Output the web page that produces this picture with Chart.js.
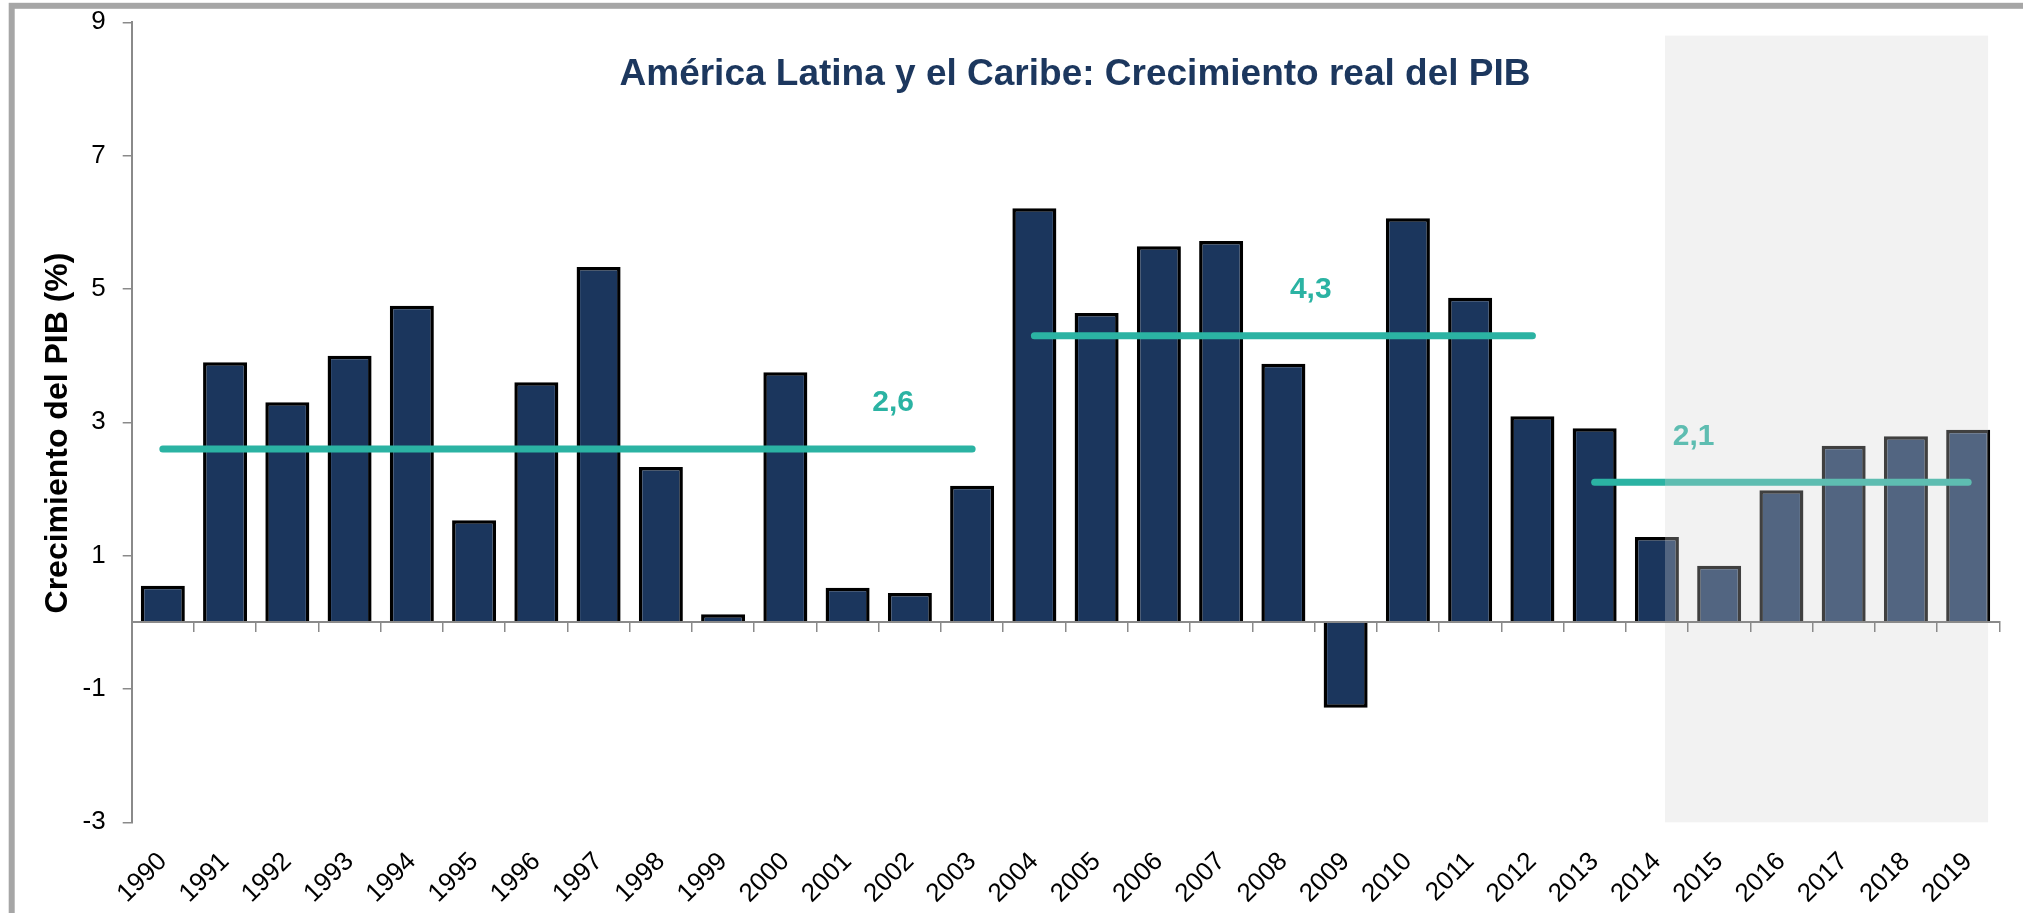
<!DOCTYPE html>
<html lang="es">
<head>
<meta charset="utf-8">
<title>América Latina y el Caribe: Crecimiento real del PIB</title>
<script src="https://cdn.jsdelivr.net/npm/chart.js@4.4.1/dist/chart.umd.min.js"></script>
<style>
  html, body { margin: 0; padding: 0; background: #fff; }
  #pibChart { display: block; }
</style>
</head>
<body>
<canvas id="pibChart" width="2023" height="913"></canvas>
<script>
// === Data ===
const years = ['1990', '1991', '1992', '1993', '1994', '1995', '1996', '1997', '1998', '1999',
               '2000', '2001', '2002', '2003', '2004', '2005', '2006', '2007', '2008', '2009',
               '2010', '2011', '2012', '2013', '2014', '2015', '2016', '2017', '2018', '2019'];

// Real GDP growth, %
const growth = [0.55, 3.9, 3.3, 4.0, 4.75, 1.53, 3.6, 5.33, 2.33, 0.12,
                3.75, 0.52, 0.44, 2.05, 6.21, 4.64, 5.64, 5.72, 3.88, -1.28,
                6.06, 4.87, 3.09, 2.91, 1.28, 0.85, 1.98, 2.65, 2.79, 2.89];

// Period averages
const avgFrom = ['1990', '2004', '2013'];
const avgTo = ['2003', '2012', '2019'];
const avgValue = [2.6, 4.3, 2.1];
const avgText = ['2,6', '4,3', '2,1'];

const yTicks = [-3, -1, 1, 3, 5, 7, 9];

// === Styling / layout ===
const FONT = "'Liberation Sans', Arial, sans-serif";
const NAVY = '#1b365d';
const TEAL = '#2bb3a3';
const AXIS_GREY = '#8a8a8a';

// where the average labels sit (category index) and the projection band (index / value units)
const avgLabelAt = [11.73, 18.44, 24.59];
const projectionBand = { from: 24.13, to: 29.32, top: 8.8, bottom: -3 };

// Outer frame, chart title and rotated y-axis title
const framePlugin = {
    id: 'framePlugin',
    beforeDraw(chart) {
        const ctx = chart.ctx;
        ctx.save();
        ctx.fillStyle = '#fff';
        ctx.fillRect(0, 0, chart.width, chart.height);
        ctx.strokeStyle = '#a6a6a6';
        ctx.lineWidth = 6;
        ctx.strokeRect(11.7, 5.8, chart.width + 40, chart.height - 2.5);
        ctx.restore();
    },
    afterDraw(chart) {
        const ctx = chart.ctx;
        ctx.save();
        ctx.fillStyle = '#1c375e';
        ctx.font = `bold 37px ${FONT}`;
        ctx.textAlign = 'center';
        ctx.textBaseline = 'alphabetic';
        ctx.fillText('América Latina y el Caribe: Crecimiento real del PIB', 1075, 85);

        ctx.translate(66.7, 433);
        ctx.rotate(-Math.PI / 2);
        ctx.fillStyle = '#000';
        ctx.font = `bold 32px ${FONT}`;
        ctx.fillText('Crecimiento del PIB (%)', 0, 0);
        ctx.restore();
    }
};

// Average labels, then the translucent projection band over everything in the plot
const overlayPlugin = {
    id: 'overlayPlugin',
    afterDatasetsDraw(chart) {
        const ctx = chart.ctx;
        const xs = chart.scales.x;
        const ys = chart.scales.y;
        ctx.save();

        ctx.fillStyle = TEAL;
        ctx.font = `bold 30px ${FONT}`;
        ctx.textAlign = 'center';
        ctx.textBaseline = 'middle';
        avgText.forEach((t, i) => {
            ctx.fillText(t, xs.getPixelForValue(avgLabelAt[i]), ys.getPixelForValue(avgValue[i]) - 46);
        });

        const left = xs.getPixelForValue(projectionBand.from);
        const right = xs.getPixelForValue(projectionBand.to);
        const top = ys.getPixelForValue(projectionBand.top);
        const bottom = ys.getPixelForValue(projectionBand.bottom);
        ctx.fillStyle = 'rgba(212, 212, 212, 0.3)';
        ctx.fillRect(left, top, right - left, bottom - top);
        ctx.restore();
    }
};

const avgDatasets = avgValue.map((v, i) => ({
    type: 'line',
    data: [{ x: avgFrom[i], y: v }, { x: avgTo[i], y: v }],
    borderColor: TEAL,
    borderWidth: 7,
    borderCapStyle: 'round',
    pointRadius: 0,
    fill: false,
    tension: 0,
    order: 1
}));

const ctx = document.getElementById('pibChart');
window.pibChart = new Chart(ctx, {
    type: 'bar',
    data: {
        labels: years,
        datasets: [
            ...avgDatasets,
            {
                type: 'bar',
                label: 'Crecimiento real del PIB',
                data: growth,
                backgroundColor: NAVY,
                borderColor: '#000',
                borderWidth: 3.5,
                categoryPercentage: 1,
                barPercentage: 0.707,
                order: 2
            }
        ]
    },
    options: {
        responsive: false,
        animation: false,
        events: [],
        layout: { padding: { top: 22.3, right: 23.7, bottom: 0, left: 0 } },
        plugins: { legend: { display: false }, tooltip: { enabled: false }, title: { display: false } },
        scales: {
            x: {
                type: 'category',
                position: 'bottom',
                offset: true,
                grid: { display: false, drawTicks: false, offset: true },
                border: { display: false },
                ticks: {
                    autoSkip: false, minRotation: 45, maxRotation: 45, padding: 24,
                    color: '#000', font: { family: FONT, size: 26 }
                },
                afterFit(scale) {
                    scale.height = 90.7;
                    scale.paddingLeft = 0;
                    scale.paddingRight = 0;
                }
            },
            // zero line with its category tick marks, drawn over the bars
            x2: {
                type: 'category',
                position: { y: 0 },
                offset: true,
                grid: { offset: true, drawOnChartArea: false, drawTicks: true, tickLength: 9,
                        color: AXIS_GREY, lineWidth: 1.5, z: 1 },
                border: { color: AXIS_GREY, width: 2, z: 1 },
                ticks: { display: false }
            },
            y: {
                min: -3,
                max: 9,
                afterBuildTicks(scale) { scale.ticks = yTicks.map(v => ({ value: v })); },
                grid: { drawOnChartArea: false, tickLength: 9, color: AXIS_GREY, lineWidth: 1.5 },
                border: { color: AXIS_GREY, width: 2 },
                ticks: { padding: 17, color: '#000', font: { family: FONT, size: 26 } },
                afterFit(scale) {
                    // the frame spacing is set by layout padding, not by label overflow
                    scale.width = 131.7;
                    scale.paddingTop = 0;
                    scale.paddingBottom = 0;
                }
            }
        }
    },
    plugins: [framePlugin, overlayPlugin]
});
</script>
</body>
</html>
